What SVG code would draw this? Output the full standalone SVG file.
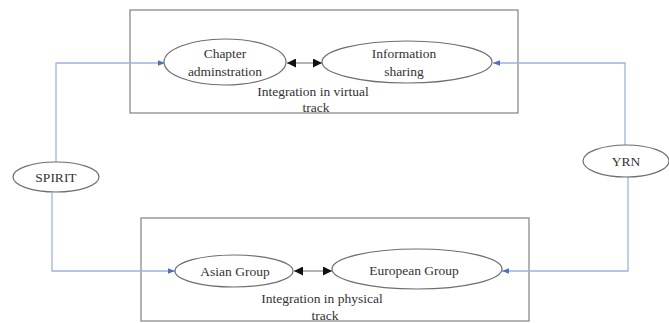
<svg xmlns="http://www.w3.org/2000/svg" width="669" height="323" viewBox="0 0 669 323">
<style>
.box{fill:none;stroke:#8a8a8a;stroke-width:1.3}
.node{fill:#fff;stroke:#6e6e6e;stroke-width:1.2}
.t{font-family:'Liberation Serif','DejaVu Serif','Noto Serif',serif;font-size:13.5px;fill:#333;text-anchor:middle;dominant-baseline:central}
.blue{fill:none;stroke:#9db4dd;stroke-width:1.3}
.blk{fill:none;stroke:#9a9a9a;stroke-width:1.3}
</style>
<defs>
<marker id="ab" viewBox="0 0 10 10" refX="10" refY="5" markerWidth="7" markerHeight="7" orient="auto" markerUnits="userSpaceOnUse">
<path d="M0,1 L10,5 L0,9 Z" fill="#4a72c0"/>
</marker>
<marker id="ak" viewBox="0 0 10 10" refX="10" refY="5" markerWidth="9" markerHeight="9" orient="auto-start-reverse" markerUnits="userSpaceOnUse">
<path d="M0,0 L10,5 L0,10 Z" fill="#111"/>
</marker>
</defs>
<rect x="0" y="0" width="669" height="323" fill="#fff"/>
<g id="virtual-track" font-family="Liberation Serif, serif">
<rect class="box" x="130" y="10" width="388" height="103"/>
<text class="t" x="313" y="91">Integration in virtual</text>
<text class="t" x="316" y="107">track</text>
</g>
<g id="physical-track">
<rect class="box" x="141" y="218" width="388" height="103"/>
<text class="t" x="322" y="298">Integration in physical</text>
<text class="t" x="325" y="315">track</text>
</g>
<g id="connectors">
<path class="blue" d="M56,162 V63 H165" marker-end="url(#ab)"/>
<path class="blue" d="M52,193 V271 H175" marker-end="url(#ab)"/>
<path class="blue" d="M625,145 V63 H493" marker-end="url(#ab)"/>
<path class="blue" d="M628,177 V271 H502" marker-end="url(#ab)"/>
<path class="blk" d="M287,63 H322" marker-start="url(#ak)" marker-end="url(#ak)"/>
<path class="blk" d="M294,271 H332" marker-start="url(#ak)" marker-end="url(#ak)"/>
</g>
<g id="chapter">
<ellipse class="node" cx="225" cy="62" rx="61" ry="23"/>
<text class="t" x="225" y="53">Chapter</text>
<text class="t" x="225" y="71">adminstration</text>
</g>
<g id="information">
<ellipse class="node" cx="407" cy="62" rx="85" ry="21"/>
<text class="t" x="404" y="53">Information</text>
<text class="t" x="404" y="71">sharing</text>
</g>
<g id="asian">
<ellipse class="node" cx="234" cy="271" rx="59" ry="16"/>
<text class="t" x="235" y="271">Asian Group</text>
</g>
<g id="european">
<ellipse class="node" cx="417" cy="269" rx="85" ry="20"/>
<text class="t" x="414" y="270">European Group</text>
</g>
<g id="spirit">
<ellipse class="node" cx="56" cy="177" rx="43" ry="15"/>
<text class="t" x="56" y="177">SPIRIT</text>
</g>
<g id="yrn">
<ellipse class="node" cx="626" cy="161" rx="43" ry="16"/>
<text class="t" x="626" y="161">YRN</text>
</g>
</svg>
